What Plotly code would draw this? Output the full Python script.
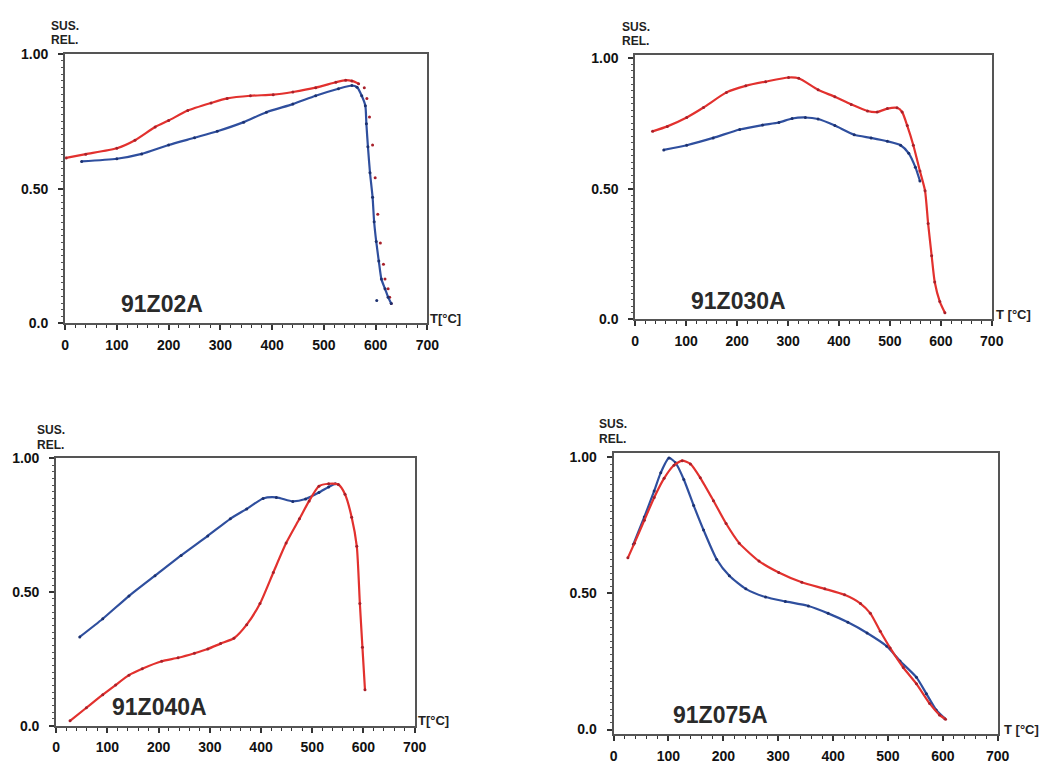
import plotly.graph_objects as go

# ---------------- data ----------------
# Panel 1: 91Z02A
p1_red_T = [2, 40, 100, 135, 174, 200, 237, 282, 313, 358, 402, 440, 484, 523, 542, 554, 567]
p1_red_v = [0.614, 0.628, 0.65, 0.68, 0.729, 0.753, 0.79, 0.818, 0.835, 0.845, 0.849, 0.859, 0.875, 0.895, 0.903, 0.90, 0.89]
p1_red_dots_T = [578, 583, 588, 594, 599, 604, 609, 615, 618, 624, 627, 630]
p1_red_dots_v = [0.875, 0.835, 0.766, 0.662, 0.54, 0.405, 0.298, 0.219, 0.164, 0.128, 0.097, 0.073]
p1_blue_T = [32, 100, 148, 200, 250, 294, 345, 389, 440, 484, 528, 554, 564, 573, 580, 582, 585, 589, 594, 597, 601, 606, 611, 618, 624, 630]
p1_blue_v = [0.601, 0.611, 0.629, 0.662, 0.689, 0.713, 0.747, 0.784, 0.814, 0.845, 0.871, 0.883, 0.877, 0.845, 0.808, 0.741, 0.656, 0.559, 0.468, 0.377, 0.304, 0.231, 0.164, 0.128, 0.097, 0.073]
p1_blue_out_T = [602]
p1_blue_out_v = [0.085]

# Panel 2: 91Z030A
p2_red_T = [34, 63, 101, 134, 179, 217, 256, 301, 321, 359, 392, 424, 456, 475, 495, 514, 524, 534, 546, 559, 569, 575, 582, 588, 598, 608]
p2_red_v = [0.719, 0.738, 0.772, 0.81, 0.868, 0.893, 0.909, 0.925, 0.922, 0.878, 0.851, 0.822, 0.797, 0.793, 0.806, 0.809, 0.793, 0.741, 0.666, 0.567, 0.492, 0.367, 0.243, 0.143, 0.068, 0.025]
p2_blue_T = [56, 101, 153, 205, 250, 282, 308, 334, 359, 392, 430, 463, 495, 521, 537, 550, 559]
p2_blue_v = [0.648, 0.666, 0.694, 0.726, 0.743, 0.753, 0.768, 0.772, 0.766, 0.741, 0.706, 0.694, 0.681, 0.666, 0.635, 0.582, 0.529]

# Panel 3: 91Z040A
p3_red_T = [27, 59, 91, 116, 142, 168, 206, 238, 270, 296, 321, 347, 372, 398, 424, 449, 475, 494, 513, 532, 551, 564, 577, 587, 593, 598, 603]
p3_red_v = [0.018, 0.067, 0.116, 0.152, 0.189, 0.213, 0.241, 0.254, 0.271, 0.287, 0.307, 0.327, 0.378, 0.457, 0.573, 0.683, 0.774, 0.841, 0.896, 0.905, 0.902, 0.866, 0.78, 0.671, 0.457, 0.293, 0.134]
p3_blue_T = [46, 91, 142, 193, 244, 296, 340, 372, 404, 430, 462, 487, 513, 532, 545]
p3_blue_v = [0.332, 0.40, 0.485, 0.561, 0.637, 0.71, 0.774, 0.811, 0.85, 0.854, 0.839, 0.848, 0.872, 0.893, 0.905]

# Panel 4: 91Z075A
p4_red_T = [26, 38, 56, 74, 92, 110, 125, 140, 158, 182, 205, 229, 265, 301, 343, 385, 421, 450, 468, 486, 504, 528, 552, 576, 594, 605]
p4_red_v = [0.631, 0.685, 0.769, 0.853, 0.923, 0.971, 0.988, 0.976, 0.925, 0.841, 0.757, 0.685, 0.619, 0.577, 0.541, 0.517, 0.495, 0.463, 0.427, 0.361, 0.30, 0.228, 0.168, 0.096, 0.054, 0.038]
p4_blue_T = [36, 56, 74, 86, 101, 113, 128, 146, 164, 188, 211, 241, 277, 313, 355, 391, 427, 462, 498, 522, 552, 570, 588, 603]
p4_blue_v = [0.68, 0.781, 0.877, 0.944, 0.998, 0.98, 0.919, 0.823, 0.733, 0.625, 0.565, 0.517, 0.487, 0.471, 0.454, 0.427, 0.394, 0.355, 0.306, 0.252, 0.192, 0.132, 0.072, 0.042]

names = ["91Z02A", "91Z030A", "91Z040A", "91Z075A"]
x_ticks = [0, 100, 200, 300, 400, 500, 600, 700]
y_ticks = [0.0, 0.5, 1.0]
y_ticktext = ["0.0", "0.50", "1.00"]

# ---------------- layout geometry ----------------
W, H = 1053, 765
# pixel boxes: (x0, x1, ytop, ybottom)
boxes = [(62, 430, 47, 322), (641, 1003, 48, 318), (53, 417, 460, 733), (619, 1009, 454, 742)]
yranges = [[0, 1.0], [0, 1.011], [0, 1.0], [-0.018, 1.018]]
sus_x = [47, 627, 33, 603]
tlabel_x = [432, 1006, 419, 1014]

RED = "#e2312e"
RED_M = "#a8202a"
BLUE = "#2f4f9e"
BLUE_M = "#1c3170"
FONT = "Liberation Sans, Arial, sans-serif"

fig = go.Figure()

def add_curve(i, T, v, color, mcolor, mode="lines+markers"):
    ax = "" if i == 0 else str(i + 1)
    fig.add_trace(go.Scatter(
        x=T, y=v, mode=mode, line=dict(color=color, width=2.2, shape="spline", smoothing=0.6),
        marker=dict(color=mcolor, size=3), xaxis="x" + ax, yaxis="y" + ax,
        showlegend=False, hoverinfo="skip"))

add_curve(0, p1_red_T, p1_red_v, RED, RED_M)
add_curve(0, p1_red_dots_T, p1_red_dots_v, RED, RED_M, mode="markers")
add_curve(0, p1_blue_T, p1_blue_v, BLUE, BLUE_M)
add_curve(0, p1_blue_out_T, p1_blue_out_v, BLUE, BLUE_M, mode="markers")
add_curve(1, p2_blue_T, p2_blue_v, BLUE, BLUE_M)
add_curve(1, p2_red_T, p2_red_v, RED, RED_M)
add_curve(2, p3_blue_T, p3_blue_v, BLUE, BLUE_M)
add_curve(2, p3_red_T, p3_red_v, RED, RED_M)
add_curve(3, p4_blue_T, p4_blue_v, BLUE, BLUE_M)
add_curve(3, p4_red_T, p4_red_v, RED, RED_M)

layout = dict(width=W, height=H, margin=dict(l=0, r=0, t=0, b=0),
              paper_bgcolor="white", plot_bgcolor="white",
              font=dict(family=FONT, color="#111"))
annotations = []
for i, (x0, x1, yt, yb) in enumerate(boxes):
    ax = "" if i == 0 else str(i + 1)
    xd = [x0 / W, x1 / W]
    yd = [1 - yb / H, 1 - yt / H]
    layout["xaxis" + ax] = dict(
        domain=xd, range=[0, 700], anchor="y" + ax, tickvals=x_ticks,
        ticks="outside", ticklen=5, tickwidth=1.5, tickcolor="#333",
        showline=True, linecolor="#555", linewidth=2, mirror=True,
        showgrid=False, zeroline=False, fixedrange=True, ticklabelstandoff=3,
        tickfont=dict(size=14, family=FONT, color="#111", weight="bold"),
        minor=dict(dtick=20, ticks="outside", ticklen=3, tickcolor="#333", tickwidth=1))
    layout["yaxis" + ax] = dict(
        domain=yd, range=yranges[i], anchor="x" + ax, tickvals=y_ticks, ticktext=y_ticktext,
        ticks="outside", ticklen=5, tickwidth=1.5, tickcolor="#333",
        showline=True, linecolor="#555", linewidth=2, mirror=True,
        showgrid=False, zeroline=False, fixedrange=True, ticklabelstandoff=7,
        tickfont=dict(size=14, family=FONT, color="#111", weight="bold"),
        minor=dict(dtick=0.025, tick0=0, ticks="outside", ticklen=2, tickcolor="#555", tickwidth=1))
    # SUS. REL. labels
    for txt, dy in (("SUS.", 29), ("REL.", 14)):
        annotations.append(dict(text=txt, xref="paper", yref="paper",
                                x=sus_x[i] / W, y=1 - (yt - dy) / H, xanchor="left", yanchor="middle",
                                showarrow=False, borderpad=0,
                                font=dict(size=12, family=FONT, color="#222", weight="bold")))
    # T[°C]
    annotations.append(dict(text="T[°C]" if i in (0, 2) else "T [°C]", xref="paper", yref="paper",
                            x=tlabel_x[i] / W, y=1 - (yb - 5) / H, xanchor="left", yanchor="middle",
                            showarrow=False, borderpad=0,
                            font=dict(size=13, family=FONT, color="#222", weight="bold")))
    # sample name
    annotations.append(dict(text=names[i], xref="x" + ax + " domain", yref="y" + ax + " domain",
                            x=0.15, y=0.07, xanchor="left", yanchor="middle", showarrow=False,
                            font=dict(size=23, family=FONT, color="#2a2a2a", weight="bold")))

layout["annotations"] = annotations
fig.update_layout(**layout)
fig.write_html("out.html")
